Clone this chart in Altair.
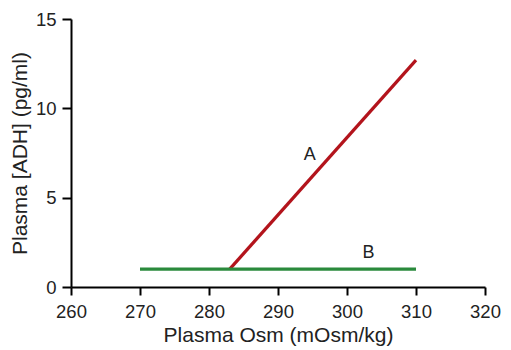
import altair as alt
import pandas as pd

a_x = [283, 310]
a_y = [1.0, 12.7]
b_x = [270, 310]
b_y = [1.0, 1.0]
labels = ["A", "B"]
label_x = [294.6, 303.1]
label_y = [7.4, 1.9]

df = pd.DataFrame({
    "x": a_x + b_x,
    "y": a_y + b_y,
    "series": ["A", "A", "B", "B"],
})
lab = pd.DataFrame({"x": label_x, "y": label_y, "t": labels})

xs = alt.Scale(domain=[260, 320], nice=False, zero=False)
ys = alt.Scale(domain=[0, 15], nice=False)

lines = alt.Chart(df).mark_line(strokeWidth=3.2).encode(
    x=alt.X("x:Q", scale=xs, title="Plasma Osm (mOsm/kg)",
            axis=alt.Axis(values=[260, 270, 280, 290, 300, 310, 320])),
    y=alt.Y("y:Q", scale=ys, title="Plasma [ADH] (pg/ml)",
            axis=alt.Axis(values=[0, 5, 10, 15])),
    color=alt.Color("series:N", scale=alt.Scale(domain=["A", "B"], range=["#b3141c", "#2a8a3c"]), legend=None),
)

text = alt.Chart(lab).mark_text(fontSize=18, font="Liberation Sans", color="#222222").encode(
    x=alt.X("x:Q", scale=xs), y=alt.Y("y:Q", scale=ys), text="t:N"
)

chart = (lines + text).properties(
    width=414, height=268,
    autosize=alt.AutoSizeParams(type="none"),
    padding={"left": 63, "top": 11, "right": 18, "bottom": 60},
).configure_view(stroke=None).configure_axis(
    grid=False, domainColor="black", domainWidth=2, tickColor="black", tickWidth=2,
    labelFont="Liberation Sans", labelFontSize=18.5, labelColor="#222222", labelFlush=False,
    labelOverlap=False,
    titleFont="Liberation Sans", titleFontSize=21, titleFontWeight="normal", titleColor="#222222",
).configure_axisX(tickSize=8, labelPadding=7, titlePadding=4).configure_axisY(
    tickSize=9, labelPadding=6, titlePadding=5)

chart.save("out.html", embed_options={"renderer": "svg", "actions": False})
